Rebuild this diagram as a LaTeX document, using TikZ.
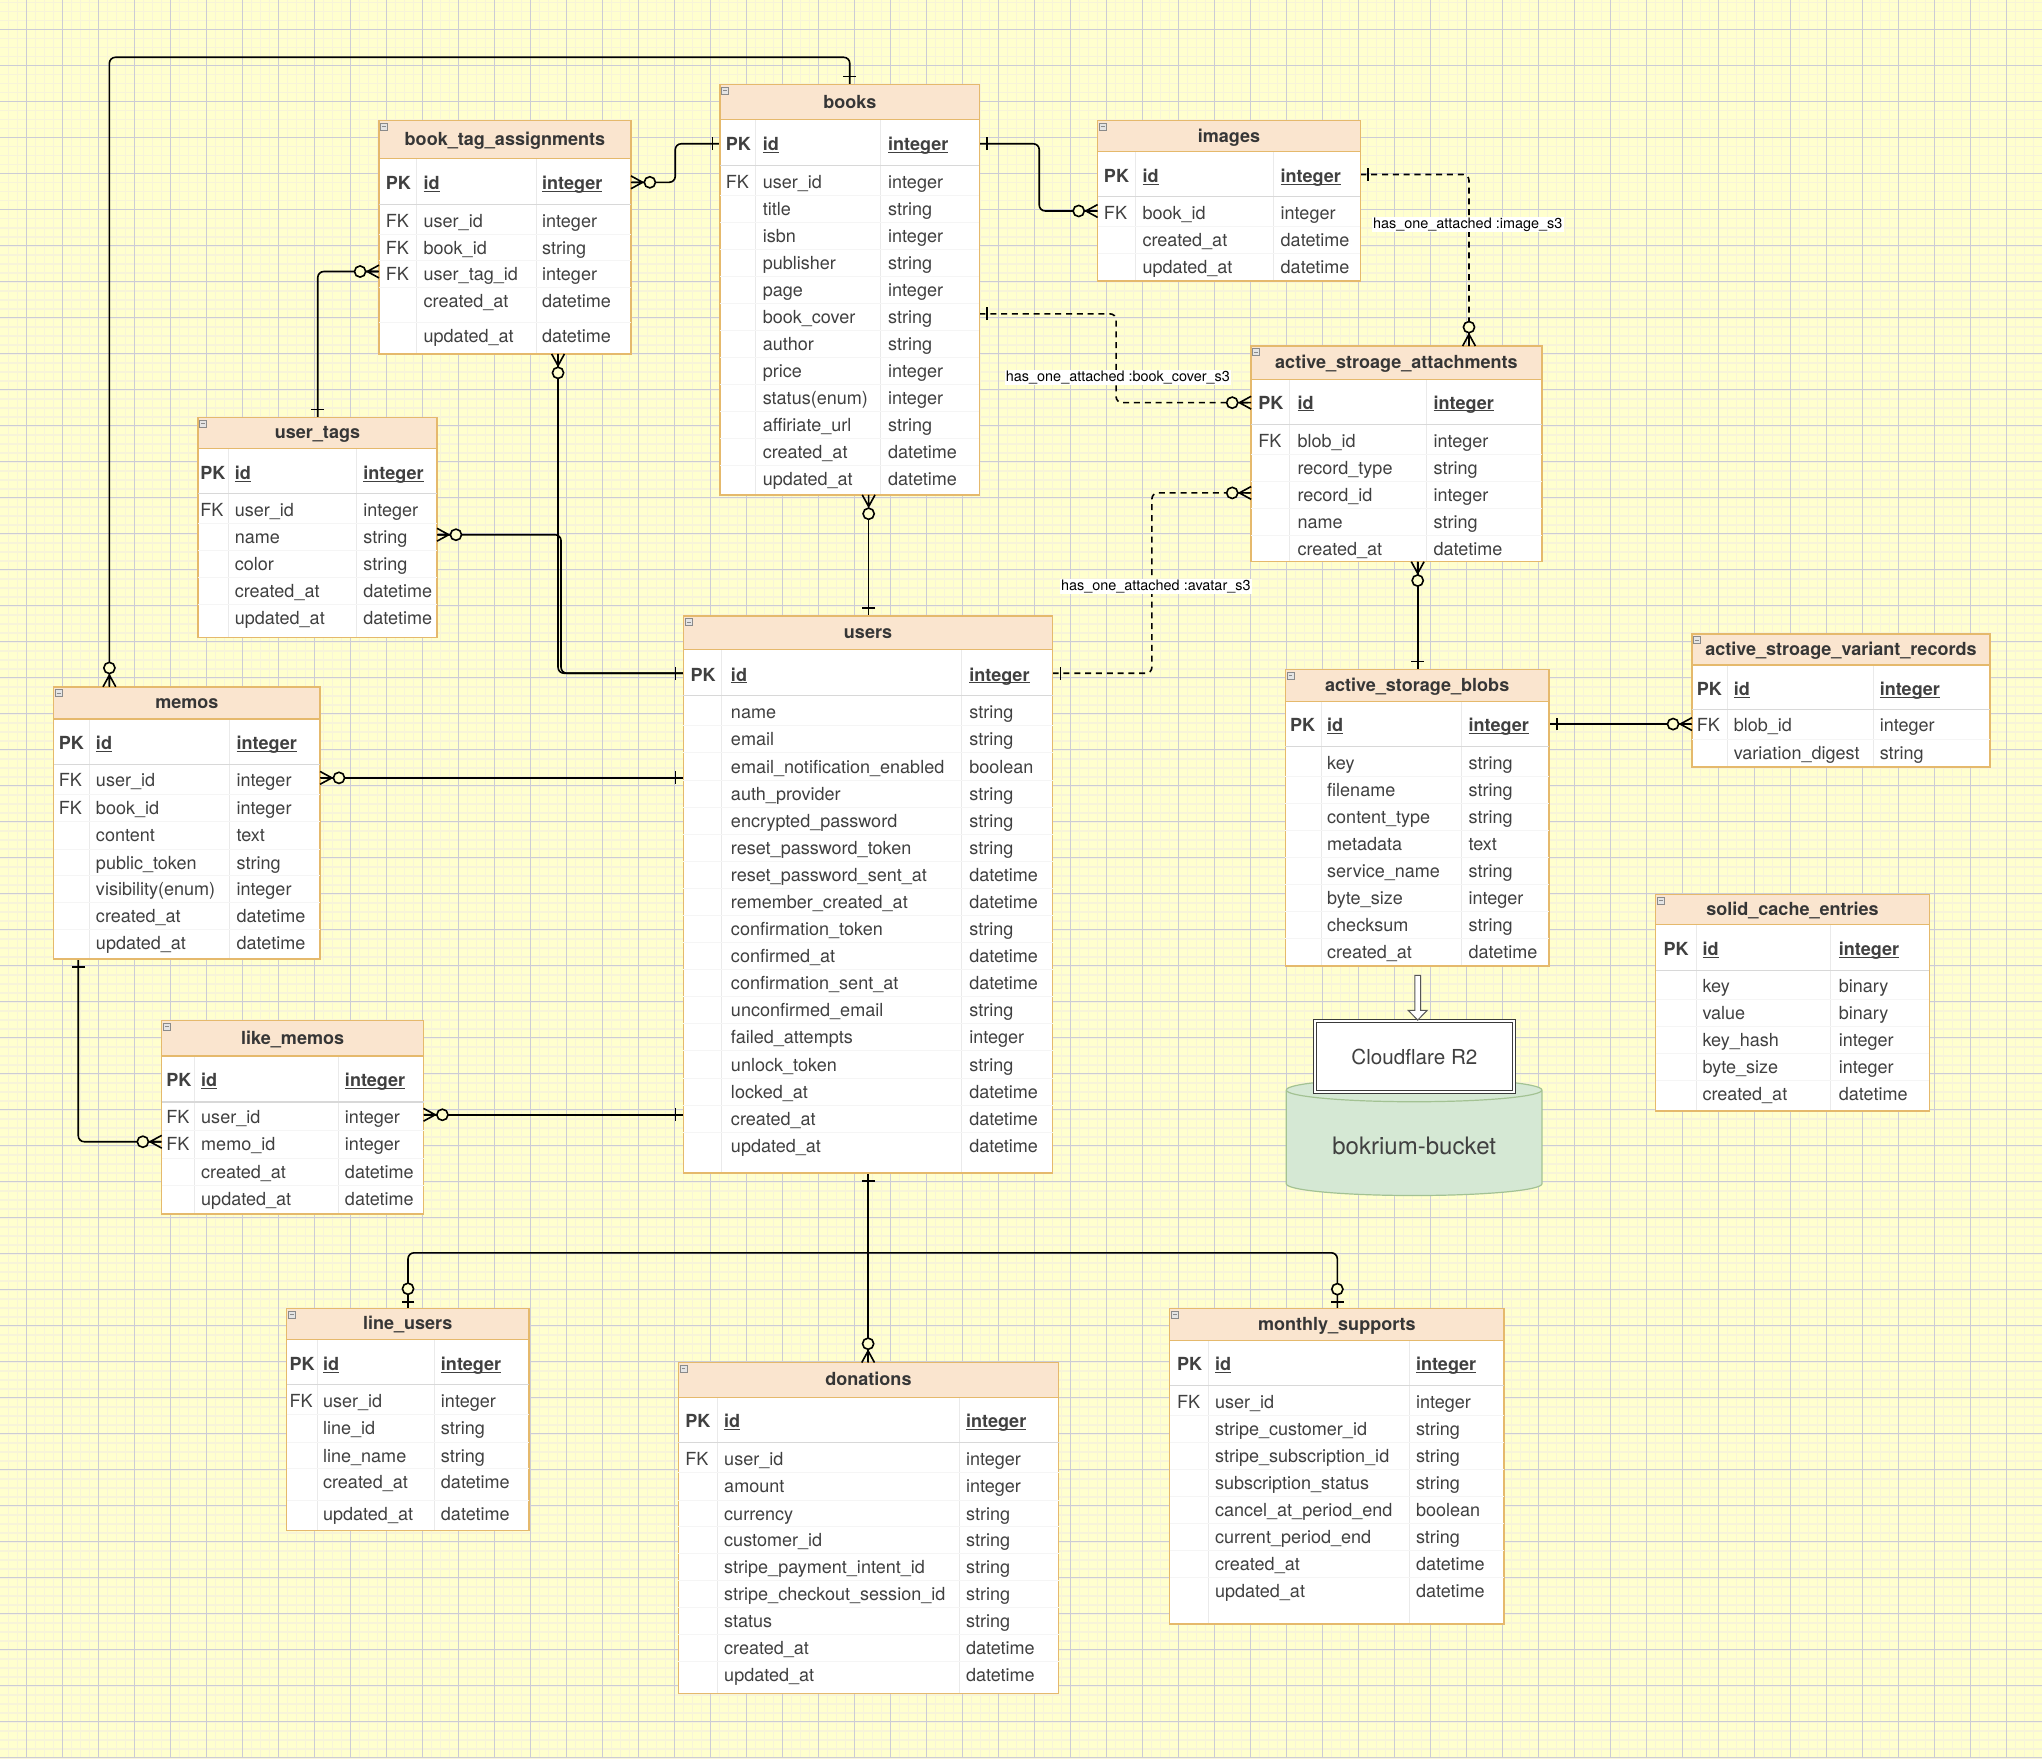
\documentclass[tikz,border=0pt]{standalone}
\usepackage{fontspec}
\setmainfont{TeX Gyre Heros}
\usetikzlibrary{fit,calc}
\definecolor{bg}{HTML}{FFFFCE}
\definecolor{gridmin}{HTML}{F7F4D8}
\definecolor{gridmaj}{HTML}{CCCCD5}
\definecolor{hdrfill}{HTML}{FAE5CF}
\definecolor{hdrline}{HTML}{E5B96C}
\definecolor{txt}{HTML}{404040}
\definecolor{ttl}{HTML}{363636}
\definecolor{coldiv}{HTML}{EAEAEA}
\definecolor{rowsep}{HTML}{F5F5F5}
\definecolor{pksep}{HTML}{D8D8D8}
\definecolor{icon}{HTML}{8A8A8A}
\definecolor{iconfill}{HTML}{E4E4E4}
\definecolor{cylfill}{HTML}{D5E8D4}
\definecolor{cylline}{HTML}{A3C293}
\definecolor{cfline}{HTML}{3A3A3A}
\definecolor{arrline}{HTML}{555555}
\newcommand\ulx[1]{\setbox0\hbox{#1}\rlap{\rule[-1.1pt]{\wd0}{0.55pt}}\box0}
\tikzset{
  conn/.style={line width=0.8pt, draw=black},
  dconn/.style={conn, dash pattern=on 3pt off 2.4pt},
  gridminor/.style={draw=gridmin, line width=0.8pt},
  gridmajor/.style={draw=gridmaj, line width=0.55pt},
  cell/.style={inner sep=0pt, text=txt, font=\fontsize{9}{11}\selectfont, anchor=base west},
  cellb/.style={cell, font=\bfseries\fontsize{9}{11}\selectfont},
  titletext/.style={inner sep=0pt, text=ttl, font=\bfseries\fontsize{9}{11}\selectfont, anchor=base},
  minusicon/.style={draw=icon, fill=iconfill, line width=0.4pt, minimum size=3.5pt, inner sep=0pt,
    path picture={\draw[icon, line width=0.5pt] ([xshift=0.8pt]path picture bounding box.west) -- ([xshift=-0.8pt]path picture bounding box.east);}},
  lbl/.style={fill=white, inner xsep=0.6pt, inner ysep=0.4pt, text=black, font=\fontsize{7.2}{8.6}\selectfont},
  coldivline/.style={draw=coldiv, line width=0.5pt},
  rowsepline/.style={draw=rowsep, line width=0.5pt},
  pksepline/.style={draw=pksep, line width=0.6pt},
  zmany/.pic={\draw[conn] (0,4.9) -- (9,0) -- (0,-4.9) (0,0) -- (10,0);
              \draw[conn, fill=bg] (14.5,0) circle[radius=4.3];},
  zone/.pic={\draw[conn] (5,4.9) -- (5,-4.9);
             \draw[conn, fill=bg] (15,0) circle[radius=4.3];},
  oneb/.pic={\draw[conn] (6,4.9) -- (6,-4.9);}
}
% #1 id, #2 L, #3 R, #4 T, #5 header bottom, #6 B, #7 colA, #8 colB, #9 title
\newcommand\ertable[9]{%
  \fill[white] (#2,#5) rectangle (#3,#6);
  \fill[hdrfill] (#2,#4) rectangle (#3,#5);
  \draw[coldivline] (#7,#5) -- (#7,#6) (#8,#5) -- (#8,#6);
  \draw[draw=hdrline, line width=0.6pt] (#2,#5) -- (#3,#5);
  \node[fit={(#2,#4) (#3,#6)}, inner sep=0pt, draw=hdrline, line width=0.7pt] (#1) {};
  \node[titletext] (#1-title) at ({(#2+#3)/2},{(#4+#5)/2+4.6}) {#9};
  \node[minusicon] (#1-icon) at ({#2+4},{#4+4.8}) {};
}
% #1 id, #2 L, #3 R, #4 pkx, #5 namex, #6 typex, #7 PK y, #8 separator y
\newcommand\erpk[8]{%
  \draw[pksepline] (#2,#8) -- (#3,#8);
  \node[cellb] (#1-pk) at ({#4},{#7+5}) {PK};
  \node[cellb] (#1-pkn) at ({#5},{#7+5}) {\ulx{id}};
  \node[cellb] (#1-pkt) at ({#6},{#7+5}) {\ulx{integer}};
}
% #1 id, #2 L, #3 R, #4 pkx, #5 namex, #6 typex, #7 rows
\newcommand\errows[7]{%
  \foreach \rk/\rn/\rt/\ry [count=\i] in {#7} {
    \ifnum\i>1 \draw[rowsepline] ({#2},{\ry-10.4}) -- ({#3},{\ry-10.4}); \fi
    \node[cell] (#1-k\i) at ({#4},{\ry+5}) {\rk};
    \node[cell] (#1-n\i) at ({#5},{\ry+5}) {\rn};
    \node[cell] (#1-t\i) at ({#6},{\ry+5}) {\rt};
  }
}
\begin{document}
\catcode`\_=12
\begin{tikzpicture}[x=0.65pt,y=-0.65pt]
\useasboundingbox (0,0) rectangle (1568,1350);
% ---------- background grid
\begin{scope}
\clip (0,0) rectangle (1568,1350);
\fill[bg] (0,0) rectangle (1568,1350);
\foreach \g in {0,...,228} \draw[gridminor] ({-7.44+6.911*\g},0) -- ({-7.44+6.911*\g},1350);
\foreach \g in {0,...,196} \draw[gridminor] (0,{-4.84+6.911*\g}) -- (1568,{-4.84+6.911*\g});
\foreach \g in {0,...,57} \draw[gridmajor] ({-7.44+27.643*\g},0) -- ({-7.44+27.643*\g},1350);
\foreach \g in {0,...,49} \draw[gridmajor] (0,{-4.84+27.643*\g}) -- (1568,{-4.84+27.643*\g});
\end{scope}

% ---------- connector end points
\coordinate (rail-top) at (0,44);
\coordinate (memos-n) at (84,527.4);
\coordinate (books-n) at (652.5,64.8);
\coordinate (bta-pk-e) at (484.5,140);
\coordinate (books-pk-w) at (553,110.4);
\coordinate (rail-x518) at (518.5,0);
\coordinate (books-pk-e) at (752.1,110.4);
\coordinate (rail-x798) at (798,0);
\coordinate (images-fk-w) at (842.8,162);
\coordinate (books-cover-e) at (752.1,241);
\coordinate (rail-x857) at (857,0);
\coordinate (att-pk-w) at (960.7,309.2);
\coordinate (images-pk-e) at (1044.6,134);
\coordinate (att-n) at (1128,265.7);
\coordinate (users-pk-e) at (808.3,517);
\coordinate (rail-x884) at (884.5,0);
\coordinate (att-rec-w) at (960.7,378.5);
\coordinate (att-s) at (1088.6,431.3);
\coordinate (blobs-n) at (1088.6,514);
\coordinate (blobs-pk-e) at (1189.4,556);
\coordinate (var-fk-w) at (1299.2,556);
\coordinate (books-s) at (667,380);
\coordinate (users-n) at (667,473);
\coordinate (bta-s) at (428.5,271.8);
\coordinate (users-pk-w) at (524.8,517);
\coordinate (ut-e) at (335.6,410.6);
\coordinate (rail-x431) at (430.8,0);
\coordinate (ut-n) at (244,320.4);
\coordinate (bta-fk-w) at (291,208.5);
\coordinate (memos-fk-e) at (245.8,597.3);
\coordinate (users-w1) at (524.8,597.3);
\coordinate (memos-s) at (60.1,736.4);
\coordinate (lm-fk-w) at (124.2,876.7);
\coordinate (lm-fk-e) at (325.2,856);
\coordinate (users-w2) at (524.8,856);
\coordinate (users-s) at (666.6,900.8);
\coordinate (rail-bot) at (0,962);
\coordinate (lu-n) at (313.3,1004.6);
\coordinate (don-n) at (666.6,1046.3);
\coordinate (ms-n) at (1026.9,1004.9);

% ---------- connectors
\draw[conn, rounded corners=3pt] (memos-n) -- (memos-n |- rail-top) -- (books-n |- rail-top) -- (books-n);
\draw[conn, rounded corners=3pt] (bta-pk-e) -- (bta-pk-e -| rail-x518) -- (books-pk-w -| rail-x518) -- (books-pk-w);
\draw[conn, rounded corners=3pt] (books-pk-e) -- (books-pk-e -| rail-x798) -- (images-fk-w -| rail-x798) -- (images-fk-w);
\draw[dconn, rounded corners=3pt] (books-cover-e) -- (books-cover-e -| rail-x857) -- (att-pk-w -| rail-x857) -- (att-pk-w);
\draw[dconn, rounded corners=3pt] (images-pk-e) -- (images-pk-e -| att-n) -- (att-n);
\draw[dconn, rounded corners=3pt] (users-pk-e) -- (users-pk-e -| rail-x884) -- (att-rec-w -| rail-x884) -- (att-rec-w);
\draw[conn] (att-s) -- (blobs-n);
\draw[conn] (blobs-pk-e) -- (var-fk-w);
\draw[conn] (books-s) -- (users-n);
\draw[conn, rounded corners=3pt] (bta-s) -- (bta-s |- users-pk-w) -- (users-pk-w);
\draw[conn, rounded corners=3pt] (ut-e) -- (ut-e -| rail-x431) -- (users-pk-w -| rail-x431) -- (users-pk-w);
\draw[conn, rounded corners=3pt] (ut-n) -- (ut-n |- bta-fk-w) -- (bta-fk-w);
\draw[conn] (memos-fk-e) -- (users-w1);
\draw[conn, rounded corners=3pt] (memos-s) -- (memos-s |- lm-fk-w) -- (lm-fk-w);
\draw[conn] (lm-fk-e) -- (users-w2);
\draw[conn] (users-s) -- (don-n);
\draw[conn, rounded corners=3pt] (lu-n) -- (lu-n |- rail-bot) -- (ms-n |- rail-bot) -- (ms-n);

% ---------- labels
\node[lbl] (lbl-cover) at (858.4,290) {has_one_attached :book_cover_s3};
\node[lbl] (lbl-image) at (1127,172.3) {has_one_attached :image_s3};
\node[lbl] (lbl-avatar) at (887.5,450.5) {has_one_attached :avatar_s3};

% ---------- tables
\ertable{books}{553}{752.1}{64.8}{92}{380}{580}{676.4}{books}
\erpk{books}{553}{752.1}{557}{585.4}{681.7}{110.8}{127}
\errows{books}{553}{752.1}{557}{585.4}{681.7}{FK/user_id/integer/139.5, {}/title/string/160.25, {}/isbn/integer/181, {}/publisher/string/201.75, {}/page/integer/222.5, {}/book_cover/string/243.25, {}/author/string/264, {}/price/integer/284.75, {}/status(enum)/integer/305.5, {}/affiriate_url/string/326.25, {}/created_at/datetime/347, {}/updated_at/datetime/367.75}

\ertable{bta}{291}{484.5}{92.6}{121.8}{271.8}{319.7}{411.6}{book_tag_assignments}
\erpk{bta}{291}{484.5}{296}{325}{416}{140.7}{157.1}
\errows{bta}{291}{484.5}{296}{325}{416}{FK/user_id/integer/169.4, FK/book_id/string/190.2, FK/user_tag_id/integer/210.4, {}/created_at/datetime/231.1, {}/updated_at/datetime/258}

\ertable{images}{842.8}{1044.6}{92.7}{116.5}{215.8}{871.8}{977.7}{images}
\erpk{images}{842.8}{1044.6}{847.4}{877}{983.1}{135.2}{151}
\errows{images}{842.8}{1044.6}{847.4}{877}{983.1}{FK/book_id/integer/163.3, {}/created_at/datetime/184.3, {}/updated_at/datetime/205}

\ertable{att}{960.7}{1183.9}{265.7}{291.3}{431.3}{990}{1095.6}{active_stroage_attachments}
\erpk{att}{960.7}{1183.9}{965.9}{996}{1100.5}{309.2}{325.8}
\errows{att}{960.7}{1183.9}{965.9}{996}{1100.5}{FK/blob_id/integer/338.4, {}/record_type/string/359.3, {}/record_id/integer/380.1, {}/name/string/401.1, {}/created_at/datetime/421.6}

\ertable{ut}{151.9}{335.6}{320.4}{344.2}{489.6}{175.5}{273.6}{user_tags}
\erpk{ut}{151.9}{335.6}{153.6}{180}{278.7}{363.4}{379.1}
\errows{ut}{151.9}{335.6}{153.6}{180}{278.7}{FK/user_id/integer/391.4, {}/name/string/412.5, {}/color/string/433.4, {}/created_at/datetime/453.9, {}/updated_at/datetime/474.5}

\ertable{users}{524.8}{808.3}{473}{499}{900.8}{554}{738}{users}
\erpk{users}{524.8}{808.3}{530}{561}{744}{518}{534}
\errows{users}{524.8}{808.3}{530}{561}{744}{{}/name/string/547, {}/email/string/567.8, {}/email_notification_enabled/boolean/588.6, {}/auth_provider/string/609.4, {}/encrypted_password/string/630.2, {}/reset_password_token/string/651, {}/reset_password_sent_at/datetime/671.8, {}/remember_created_at/datetime/692.6, {}/confirmation_token/string/713.4, {}/confirmed_at/datetime/734.2, {}/confirmation_sent_at/datetime/755, {}/unconfirmed_email/string/775.8, {}/failed_attempts/integer/796.6, {}/unlock_token/string/817.4, {}/locked_at/datetime/838.2, {}/created_at/datetime/859, {}/updated_at/datetime/879.8}

\ertable{memos}{41.1}{245.8}{527.4}{552.1}{736.4}{68.6}{176.5}{memos}
\erpk{memos}{41.1}{245.8}{44.9}{73.4}{181.4}{570.5}{587}
\errows{memos}{41.1}{245.8}{44.9}{73.4}{181.4}{FK/user_id/integer/599.3, FK/book_id/integer/620.4, {}/content/text/641.3, {}/public_token/string/662.4, {}/visibility(enum)/integer/683, {}/created_at/datetime/703.5, {}/updated_at/datetime/724.1}

\ertable{lm}{124.2}{325.2}{783.7}{810.9}{932.2}{149.3}{260}{like_memos}
\erpk{lm}{124.2}{325.2}{127.4}{154.2}{264.6}{829.3}{846.2}
\errows{lm}{124.2}{325.2}{127.4}{154.2}{264.6}{FK/user_id/integer/858, FK/memo_id/integer/878.4, {}/created_at/datetime/899.7, {}/updated_at/datetime/920.4}

\ertable{blobs}{987}{1189.4}{514}{538.5}{741.9}{1014.9}{1121.9}{active_storage_blobs}
\erpk{blobs}{987}{1189.4}{990.4}{1018.8}{1127.4}{557}{573.3}
\errows{blobs}{987}{1189.4}{990.4}{1018.8}{1127.4}{{}/key/string/585.8, {}/filename/string/606.5, {}/content_type/string/627.5, {}/metadata/text/647.9, {}/service_name/string/668.9, {}/byte_size/integer/689.6, {}/checksum/string/710.3, {}/created_at/datetime/730.9}

\ertable{var}{1299.2}{1528}{486.7}{510.6}{589}{1326.4}{1438.5}{active_stroage_variant_records}
\erpk{var}{1299.2}{1528}{1302.7}{1331}{1443.1}{529}{545}
\errows{var}{1299.2}{1528}{1302.7}{1331}{1443.1}{FK/blob_id/integer/557, {}/variation_digest/string/578.3}

\ertable{sce}{1271.3}{1481.5}{687}{710}{853.2}{1302.7}{1405.9}{solid_cache_entries}
\erpk{sce}{1271.3}{1481.5}{1277.1}{1307}{1411.7}{728.7}{745}
\errows{sce}{1271.3}{1481.5}{1277.1}{1307}{1411.7}{{}/key/binary/757.3, {}/value/binary/778, {}/key_hash/integer/798.7, {}/byte_size/integer/819.3, {}/created_at/datetime/840}

\ertable{lu}{220}{406.1}{1004.6}{1028.4}{1175.3}{243.9}{333.6}{line_users}
\erpk{lu}{220}{406.1}{222}{247.8}{338.3}{1047.6}{1063}
\errows{lu}{220}{406.1}{222}{247.8}{338.3}{FK/user_id/integer/1075.8, {}/line_id/string/1096.8, {}/line_name/string/1117.7, {}/created_at/datetime/1138.2, {}/updated_at/datetime/1162.8}

\ertable{don}{520.9}{812.8}{1046.3}{1073}{1300.2}{551}{736.8}{donations}
\erpk{don}{520.9}{812.8}{526}{555.8}{741.5}{1091.4}{1107.5}
\errows{don}{520.9}{812.8}{526}{555.8}{741.5}{FK/user_id/integer/1120.3, {}/amount/integer/1141.3, {}/currency/string/1162.3, {}/customer_id/string/1182.8, {}/stripe_payment_intent_id/string/1203.2, {}/stripe_checkout_session_id/string/1224, {}/status/string/1245, {}/created_at/datetime/1265.4, {}/updated_at/datetime/1286.2}

\ertable{ms}{898.2}{1154.9}{1004.9}{1029.5}{1247}{928.1}{1082.4}{monthly_supports}
\erpk{ms}{898.2}{1154.9}{903.5}{932.7}{1087}{1047.4}{1064}
\errows{ms}{898.2}{1154.9}{903.5}{932.7}{1087}{FK/user_id/integer/1076.3, {}/stripe_customer_id/string/1097.3, {}/stripe_subscription_id/string/1118, {}/subscription_status/string/1139, {}/cancel_at_period_end/boolean/1159.5, {}/current_period_end/string/1180.5, {}/created_at/datetime/1201.2, {}/updated_at/datetime/1221.7}

% ---------- markers
\pic[rotate=90] at (memos-n) {zmany};
\pic[rotate=90] at (books-n) {oneb};
\pic at (bta-pk-e) {zmany};
\pic[rotate=180] at (books-pk-w) {oneb};
\pic at (books-pk-e) {oneb};
\pic[rotate=180] at (images-fk-w) {zmany};
\pic at (books-cover-e) {oneb};
\pic[rotate=180] at (att-pk-w) {zmany};
\pic at (images-pk-e) {oneb};
\pic[rotate=90] at (att-n) {zmany};
\pic at (users-pk-e) {oneb};
\pic[rotate=180] at (att-rec-w) {zmany};
\pic[rotate=-90] at (att-s) {zmany};
\pic[rotate=90] at (blobs-n) {oneb};
\pic at (blobs-pk-e) {oneb};
\pic[rotate=180] at (var-fk-w) {zmany};
\pic[rotate=-90] at (books-s) {zmany};
\pic[rotate=90] at (users-n) {oneb};
\pic[rotate=-90] at (bta-s) {zmany};
\pic[rotate=180] at (users-pk-w) {oneb};
\pic at (ut-e) {zmany};
\pic[rotate=90] at (ut-n) {oneb};
\pic[rotate=180] at (bta-fk-w) {zmany};
\pic at (memos-fk-e) {zmany};
\pic[rotate=180] at (users-w1) {oneb};
\pic[rotate=-90] at (memos-s) {oneb};
\pic[rotate=180] at (lm-fk-w) {zmany};
\pic at (lm-fk-e) {zmany};
\pic[rotate=180] at (users-w2) {oneb};
\pic[rotate=-90] at (users-s) {oneb};
\pic[rotate=90] at (lu-n) {zone};
\pic[rotate=90] at (don-n) {zmany};
\pic[rotate=90] at (ms-n) {zone};

% ---------- storage: bucket cylinder, Cloudflare box, block arrow
\fill[cylfill] (987.7,837) -- (987.7,909) arc[start angle=180, end angle=360, x radius=63.8pt, y radius=5.85pt] -- (1184,837) arc[start angle=0, end angle=180, x radius=63.8pt, y radius=5.85pt] -- cycle;
\draw[draw=cylline, line width=0.6pt] (987.7,837) -- (987.7,909) arc[start angle=180, end angle=360, x radius=63.8pt, y radius=5.85pt] -- (1184,837) arc[start angle=0, end angle=180, x radius=63.8pt, y radius=5.85pt] arc[start angle=180, end angle=360, x radius=63.8pt, y radius=5.85pt];
\node[inner sep=0pt, text=txt, font=\fontsize{12}{14}\selectfont] (bucket) at (1085.9,879.8) {bokrium-bucket};
\node[draw=cfline, double=white, double distance=0.9pt, line width=0.55pt, fill=white, minimum width=99.6pt, minimum height=35.3pt, inner sep=0pt, text=txt, font=\fontsize{10.3}{12}\selectfont] (cf) at (1086.1,811.35) {Cloudflare R2};
\coordinate (blobs-s) at (1088.6,749);
\coordinate (cf-n) at (1088.6,783.3);
\draw[draw=arrline, fill=white, line width=0.5pt] ($(blobs-s)+(-2.2,0)$) -- ($(blobs-s)+(2.2,0)$) -- ($(cf-n)+(2.2,-7.5)$) -- ($(cf-n)+(7.3,-7.5)$) -- (cf-n) -- ($(cf-n)+(-7.3,-7.5)$) -- ($(cf-n)+(-2.2,-7.5)$) -- cycle;
\end{tikzpicture}
\end{document}
